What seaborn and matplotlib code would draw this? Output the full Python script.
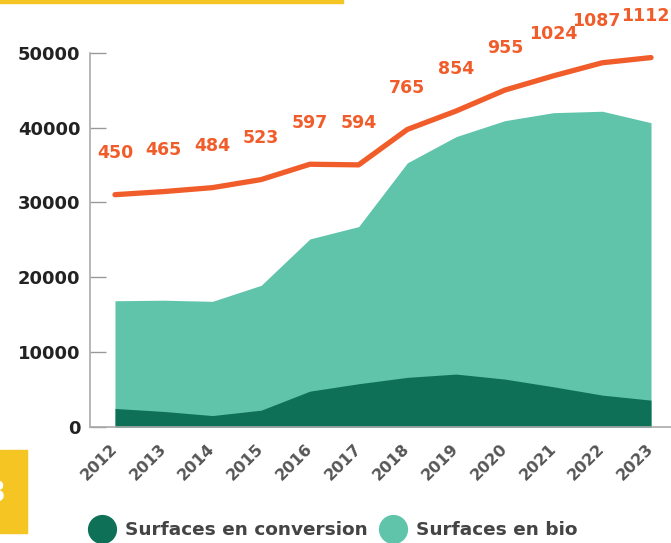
import matplotlib.pyplot as plt
import seaborn as sns
from matplotlib.lines import Line2D
from matplotlib.patches import Rectangle

sns.set_theme(style="white")
plt.rcParams['font.family'] = ['DejaVu Sans']

# data
years = [2012, 2013, 2014, 2015, 2016, 2017, 2018, 2019, 2020, 2021, 2022, 2023]
conversion = [2500, 2100, 1550, 2270, 4810, 5800, 6650, 7090, 6420, 5390, 4280, 3610]
total_surface = [16880, 16950, 16800, 18940, 25130, 26780, 35290, 38790, 40920, 41990, 42180, 40650]
farms = [450, 465, 484, 523, 597, 594, 765, 854, 955, 1024, 1087, 1112]

dark_green = '#0e7157'
light_green = '#5fc4aa'
orange = '#f15d2a'
yellow = '#f5c523'

fig = plt.figure(figsize=(6.71, 5.43), dpi=100)
ax = fig.add_axes([0.1341, 0.2133, 0.8659, 0.6897])

# stacked areas
ax.fill_between(years, 0, total_surface, color=light_green, lw=0)
ax.fill_between(years, 0, conversion, color=dark_green, lw=0)

ax.set_xlim(2011.487, 2023.41)
ax.set_ylim(0, 50000)
ax.set_yticks([0, 10000, 20000, 30000, 40000, 50000])
ax.set_yticklabels(['0', '10000', '20000', '30000', '40000', '50000'],
                   fontsize=13, fontweight='bold', color='#222222')
ax.set_xticks(years)
ax.set_xticklabels([str(y) for y in years], rotation=45, ha='right', va='center',
                   rotation_mode='anchor', fontsize=11.5, fontweight='bold', color='#555555')
ax.tick_params(axis='y', direction='in', length=11.5, width=1, color='#999999', pad=7)
ax.tick_params(axis='x', length=0, pad=14)
for s in ['top', 'right']:
    ax.spines[s].set_visible(False)
for s in ['left', 'bottom']:
    ax.spines[s].set_color('#aaaaaa')
    ax.spines[s].set_linewidth(1.2)

# number of farms on a hidden second axis
ax2 = ax.twinx()
ax2.set_ylim(-672.6, 1135.7)
sns.lineplot(x=years, y=farms, ax=ax2, color=orange, lw=3.8, clip_on=False,
             solid_capstyle='round', solid_joinstyle='round')
for i, (x, f) in enumerate(zip(years, farms)):
    dx = -4 if i >= len(years) - 2 else 0
    ax2.annotate(str(f), (x, f), xytext=(dx, 30), textcoords='offset points',
                 ha='center', va='center', fontsize=12.5, fontweight='bold',
                 color=orange, annotation_clip=False)
ax2.set_axis_off()

# legend
handles = [
    Line2D([], [], marker='o', ls='', markersize=20, color=dark_green),
    Line2D([], [], marker='o', ls='', markersize=20, color=light_green),
]
fig.legend(handles, ['Surfaces en conversion', 'Surfaces en bio'], loc='center',
           bbox_to_anchor=(0.493, 0.024), ncol=2, frameon=False,
           handletextpad=0.25, columnspacing=0.35,
           prop={'size': 13.3, 'weight': 'bold'}, labelcolor='#444444')

# yellow decorations
fig.patches.append(Rectangle((0, 1 - 2.5 / 543), 343 / 671, 2.5 / 543,
                             transform=fig.transFigure, color=yellow, zorder=0))
fig.patches.append(Rectangle((0, (543 - 533) / 543), 27 / 671, 83 / 543,
                             transform=fig.transFigure, color=yellow, zorder=0))
fig.text(-4 / 671, (543 - 493) / 543, '3', ha='center', va='center',
         fontsize=22, fontweight='bold', color='white')

fig.savefig('out.png', dpi=100)
